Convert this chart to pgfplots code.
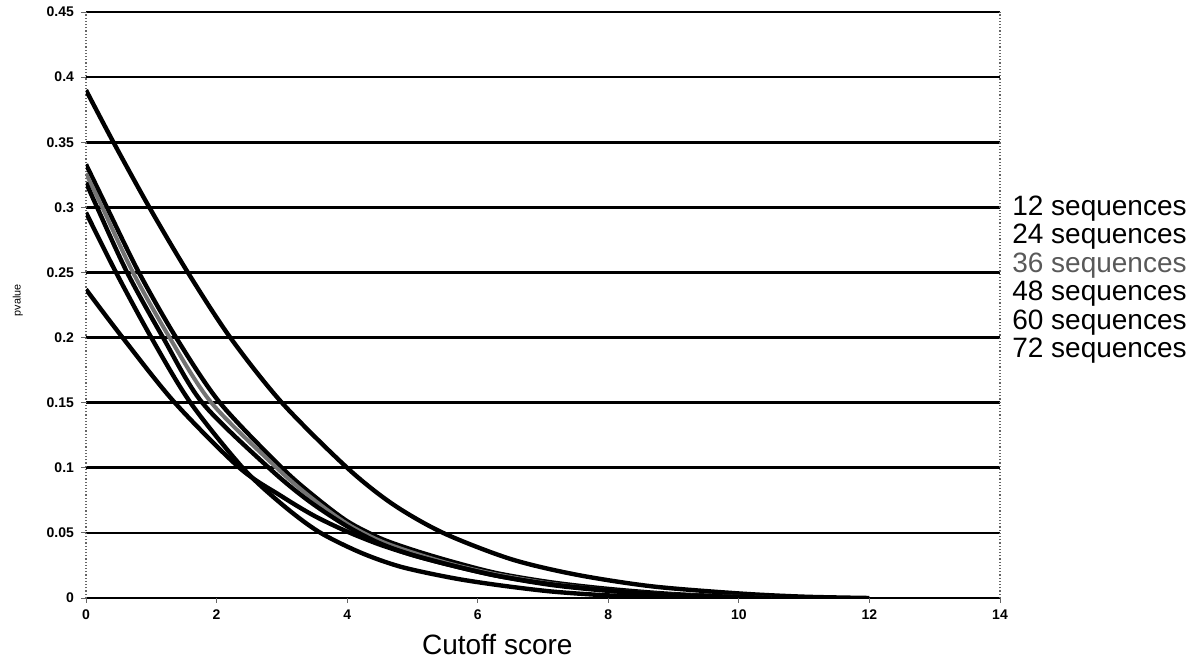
\documentclass[border=0pt]{standalone}
\usepackage{pgfplots}
\pgfplotsset{compat=1.18}
\usepackage{fontspec}
\setmainfont{Liberation Sans}
\begin{document}
\begin{tikzpicture}
\useasboundingbox (-43pt,-32pt) rectangle (558.5pt,299pt);
\begin{axis}[
  at={(0,0)}, anchor=south west,
  scale only axis, width=457pt, height=293pt,
  xmin=0, xmax=14, ymin=0, ymax=0.45,
  xtick={0,2,4,6,8,10,12,14},
  ytick={0,0.05,0.1,0.15,0.2,0.25,0.3,0.35,0.4,0.45},
  scaled y ticks=false,
  /pgf/number format/assume math mode=true,
  yticklabel style={/pgf/number format/fixed, /pgf/number format/precision=2, font=\bfseries\fontsize{7}{8}\selectfont},
  xticklabel style={font=\bfseries\fontsize{7}{8}\selectfont},
  xtick pos=bottom, ytick pos=left,
  tick align=outside, major tick length=2.5pt,
  tick style={black!60, line width=0.4pt},
  axis line style={draw=none},
  extra x ticks={0,14},
  extra x tick labels={},
  extra x tick style={grid=major, major tick length=0pt, major grid style={black!60, line width=0.6pt, densely dotted}},
  ymajorgrids, grid style={black, line width=1.3pt},
  xlabel={Cutoff score},
  xlabel style={at={(axis description cs:0.45,-0.08)}, anchor=center, font=\fontsize{14}{16}\selectfont},
  ylabel={pvalue},
  ylabel style={at={(axis description cs:-0.0745,0.508)}, anchor=center, font=\fontsize{5.4}{6}\selectfont},
  legend style={at={(axis description cs:1.013,0.69)}, anchor=north west, draw=none, fill=none,
    font=\fontsize{14}{14.25}\selectfont, inner sep=0pt, row sep=0pt,
    nodes={inner sep=0pt, text height=10.5pt, text depth=3.75pt}},
  legend image code/.code={},
  legend cell align=left,
]
% 12 sequences
\addplot[black, smooth, line width=2.2pt] coordinates {(0,0.39) (0.42,0.35) (0.97,0.3) (1.56,0.25) (2.21,0.2) (3.0,0.15) (4,0.1) (4.7,0.072) (5.47,0.05) (6.5,0.03) (7.5,0.018) (8.66,0.009) (10,0.0035) (11,0.001) (12,0)};
\addlegendentry{12 sequences}
% 24 sequences
\addplot[black, smooth, line width=2.2pt] coordinates {(0,0.333) (0.32,0.3) (0.81,0.25) (1.38,0.2) (2.05,0.15) (3.0,0.1) (3.5,0.078) (4.0,0.059) (4.5,0.046) (5.0,0.037) (5.6,0.028) (6.3,0.019) (7.13,0.012) (8,0.007) (9,0.003) (10,0.001) (10.5,0)};
\addlegendentry{24 sequences}
% 36 sequences
\addplot[black!55, smooth, line width=2pt] coordinates {(0,0.326) (0.25,0.3) (0.72,0.25) (1.28,0.2) (1.92,0.15) (2.92,0.1) (3.45,0.077) (4.0,0.057) (4.5,0.044) (5.0,0.035) (5.6,0.026) (6.3,0.018) (7.13,0.011) (8,0.006) (9,0.0025) (10,0.0008) (10.5,0)};
\addlegendentry{\textcolor{black!65}{36 sequences}}
% 48 sequences
\addplot[black, smooth, line width=2.2pt] coordinates {(0,0.319) (0.17,0.3) (0.63,0.25) (1.18,0.2) (1.78,0.15) (2.8,0.1) (3.4,0.075) (4.0,0.055) (4.5,0.042) (5.0,0.033) (5.6,0.025) (6.3,0.017) (7.13,0.010) (8,0.0055) (9,0.002) (10,0.0005) (10.5,0)};
\addlegendentry{48 sequences}
% 60 sequences
\addplot[black, smooth, line width=2.2pt] coordinates {(0,0.296) (0.46,0.25) (1.0,0.2) (1.6,0.15) (2.4,0.1) (3,0.072) (3.56,0.051) (4.2,0.035) (4.82,0.024) (5.6,0.0155) (6.3,0.010) (7.13,0.005) (8,0.002) (9,0.0005) (9.5,0)};
\addlegendentry{60 sequences}
% 72 sequences
\addplot[black, smooth, line width=2.2pt] coordinates {(0,0.237) (0.56,0.2) (1.36,0.15) (2.35,0.1) (3,0.078) (3.5,0.063) (4.0,0.051) (4.5,0.041) (5.0,0.033) (5.6,0.025) (6.3,0.017) (7.13,0.0105) (8,0.006) (9,0.0025) (10,0.0008) (10.5,0)};
\addlegendentry{72 sequences}
\end{axis}
\end{tikzpicture}
\end{document}
